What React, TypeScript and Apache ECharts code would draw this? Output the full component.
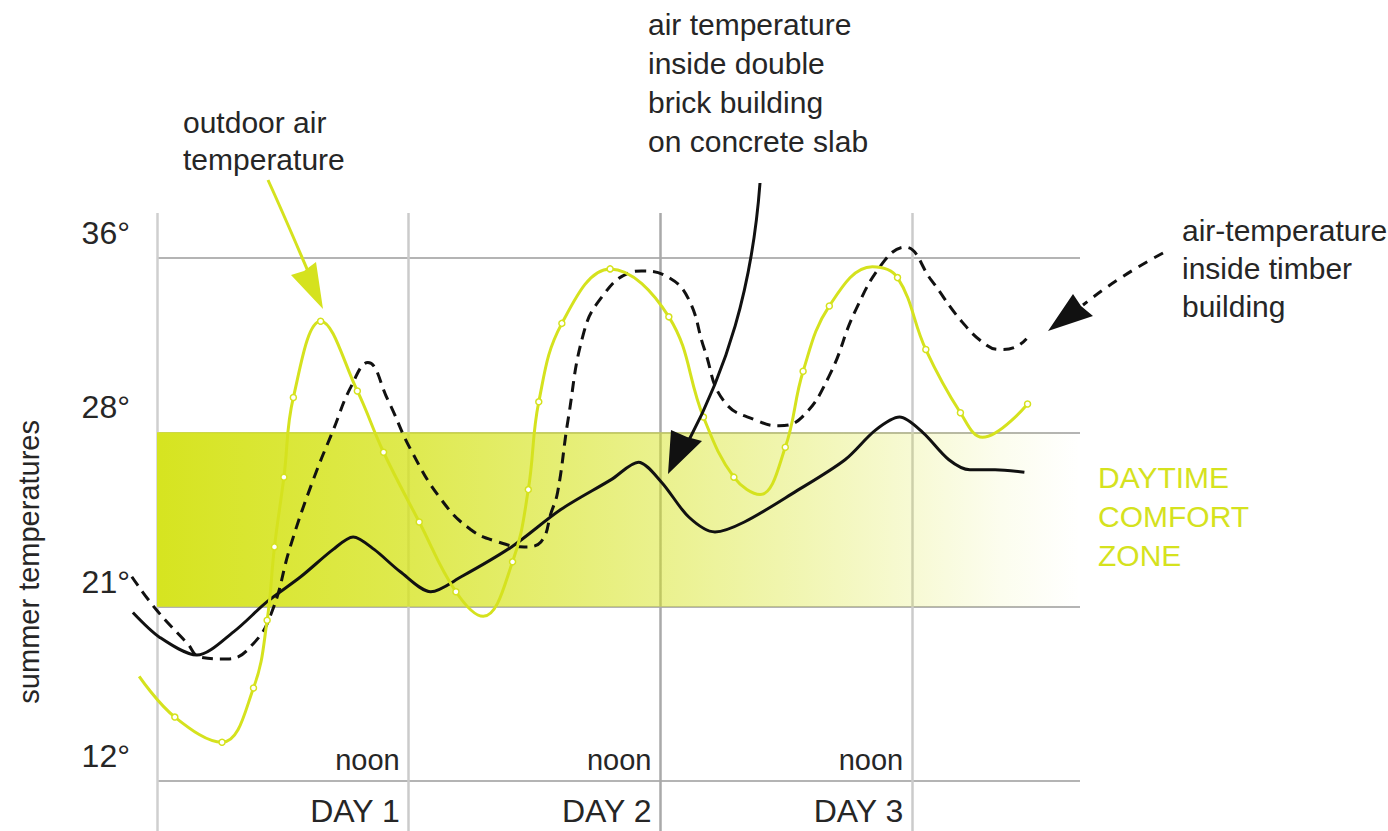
import React, { useEffect, useRef } from "react";
import * as echarts from "echarts";

// Hours from midnight of day 1 (x), temperatures in °C (y)
const outdoorHours = [-1.7, 1.7, 6.2, 9.2, 10.5, 11.2, 12.1, 13.0, 15.6, 19.1, 21.6, 25.0, 28.5, 31.1, 33.9, 35.4, 36.4, 38.6, 43.2, 48.8, 52.1, 55.0, 57.5, 59.9, 61.6, 64.1, 68.2, 70.6, 73.3, 76.6, 78.7, 83.0];
const outdoorTemps = [17.4, 15.3, 14.0, 16.8, 20.3, 23.4, 26.2, 29.6, 33.1, 29.9, 27.2, 24.4, 21.6, 20.5, 22.8, 25.7, 29.4, 33.0, 35.5, 33.3, 28.7, 26.2, 25.5, 27.4, 30.8, 33.8, 35.6, 35.1, 31.8, 28.9, 27.8, 29.3];
const outdoorUnmarked = [0, 13, 22, 26, 30];

const timberHours = [-2.4, 0.0, 2.9, 4.1, 6.7, 9.2, 11.0, 12.7, 14.9, 16.8, 18.5, 20.1, 22.0, 24.2, 27.1, 29.9, 32.5, 35.0, 36.6, 37.6, 38.2, 39.2, 40.7, 42.4, 44.9, 46.2, 48.8, 50.7, 52.2, 54.1, 57.4, 59.3, 61.5, 64.1, 66.6, 69.4, 71.3, 73.8, 76.7, 79.1, 80.5, 81.8, 82.9];
const timberTemps = [22.2, 20.8, 19.1, 18.4, 18.3, 19.1, 20.8, 23.4, 26.1, 28.1, 30.1, 31.2, 29.5, 27.3, 25.3, 24.1, 23.6, 23.4, 23.6, 24.8, 25.6, 28.6, 32.6, 34.2, 35.3, 35.4, 35.1, 34.1, 31.8, 29.4, 28.5, 28.3, 28.7, 30.6, 33.6, 35.9, 36.5, 35.0, 33.1, 32.0, 31.8, 31.9, 32.3];

const brickHours = [-2.3, 0.3, 3.8, 7.3, 10.5, 13.7, 16.8, 18.7, 20.7, 23.2, 26.1, 29.0, 33.8, 38.5, 43.3, 45.9, 48.1, 50.7, 53.2, 56.0, 60.8, 65.6, 68.5, 70.8, 73.0, 75.5, 77.5, 79.9, 82.7];
const brickTemps = [20.7, 19.4, 18.5, 19.7, 21.2, 22.2, 23.3, 23.8, 23.3, 22.4, 21.6, 22.2, 23.4, 24.9, 26.1, 26.8, 26.0, 24.6, 24.0, 24.4, 25.6, 26.9, 28.1, 28.7, 28.0, 26.9, 26.5, 26.5, 26.4];

// Temperature tick levels (drawn equally spaced)
const tempTicks = [12, 21, 28, 36];
const tempTickLabels = ["12°", "21°", "28°", "36°"];
const comfortZone = [21, 28];
const noonHours = [24, 48, 72];
const dayLabels = ["DAY 1", "DAY 2", "DAY 3"];

const YG = "#d5e21e";
const FONT = "'Liberation Sans', Arial, Helvetica, sans-serif";
const TXT = "#262626";
const X_MAX = 88;
const PX_PER_HOUR = (1388 - 157 - 308) / X_MAX;
const PX_PER_LEVEL = (831 - 258 - 50) / 3;
const DATA_Y_MAX = 3.5;

function toLevel(t: number): number {
  for (let i = 0; i < tempTicks.length - 1; i++) {
    const a = tempTicks[i];
    const b = tempTicks[i + 1];
    if (t <= b || i === tempTicks.length - 2) return i + (t - a) / (b - a);
  }
  return 0;
}

export default function App() {
  const ref = useRef<HTMLDivElement>(null);
  useEffect(() => {
    if (!ref.current) return;
    const chart = echarts.init(ref.current, null, { renderer: "svg" });

    const outdoorData = outdoorHours.map((h, i) => {
      const item: any = { value: [h, toLevel(outdoorTemps[i])] };
      if (outdoorUnmarked.includes(i)) item.symbol = "none";
      return item;
    });
    const timberData = timberHours.map((h, i) => [h, toLevel(timberTemps[i])]);
    const brickData = brickHours.map((h, i) => [h, toLevel(brickTemps[i])]);

    const option: any = {
      animation: false,
      backgroundColor: "#ffffff",
      grid: [
        { left: 157, right: 308, top: 258, bottom: 50 },
        { left: 157, right: 308, top: 213, bottom: 0 },
        {
          left: 157 - 12 * PX_PER_HOUR,
          right: 308,
          top: 258 - (DATA_Y_MAX - 3) * PX_PER_LEVEL,
          bottom: 50,
        },
      ],
      xAxis: [
        {
          type: "value",
          gridIndex: 0,
          min: 0,
          max: X_MAX,
          interval: 24,
          axisLine: { show: false },
          axisTick: { show: false },
          splitLine: { show: false },
          axisLabel: {
            inside: true,
            margin: 7,
            align: "right",
            verticalAlign: "bottom",
            padding: [0, 9, 0, 0],
            fontFamily: FONT,
            fontSize: 29,
            color: TXT,
            showMaxLabel: false,
            formatter: (v: number) => (noonHours.includes(v) ? "noon" : ""),
          },
        },
        {
          type: "value",
          gridIndex: 0,
          position: "bottom",
          min: 0,
          max: X_MAX,
          interval: 24,
          axisLine: { show: false },
          axisTick: { show: false },
          splitLine: { show: false },
          axisLabel: {
            margin: 14,
            align: "right",
            verticalAlign: "top",
            padding: [0, 9, 0, 0],
            fontFamily: FONT,
            fontSize: 32,
            color: TXT,
            showMaxLabel: false,
            formatter: (v: number) => {
              const k = noonHours.indexOf(v);
              return k >= 0 ? dayLabels[k] : "";
            },
          },
        },
        {
          type: "value",
          gridIndex: 1,
          min: 0,
          max: X_MAX,
          interval: 24,
          axisLine: { show: false },
          axisTick: { show: false },
          axisLabel: { show: false },
          splitLine: {
            show: true,
            showMaxLine: false,
            lineStyle: { color: ["#cfcfcf", "#cbcbcb", "#a9a9a9", "#cbcbcb"], width: 2.5 },
          },
        },
        {
          type: "value",
          gridIndex: 2,
          min: -12,
          max: X_MAX,
          interval: 12,
          show: false,
        },
      ],
      yAxis: [
        {
          type: "value",
          gridIndex: 0,
          min: 0,
          max: 3,
          interval: 1,
          axisLine: { show: false },
          axisTick: { show: false },
          splitLine: { show: true, lineStyle: { color: "#b4b4b4", width: 2 } },
          axisLabel: {
            margin: 27,
            verticalAlign: "bottom",
            padding: [0, 0, 9, 0],
            fontFamily: FONT,
            fontSize: 32,
            color: TXT,
            formatter: (v: number) => tempTickLabels[Math.round(v)] ?? "",
          },
        },
        { type: "value", gridIndex: 1, min: 0, max: 1, show: false },
        { type: "value", gridIndex: 2, min: 0, max: DATA_Y_MAX, show: false },
      ],
      series: [
        {
          name: "comfort",
          type: "line",
          xAxisIndex: 0,
          yAxisIndex: 0,
          data: [],
          silent: true,
          markArea: {
            silent: true,
            itemStyle: {
              color: {
                type: "linear",
                x: 0,
                y: 0,
                x2: 1,
                y2: 0,
                colorStops: [
                  { offset: 0, color: "rgba(214,228,32,1)" },
                  { offset: 0.26, color: "rgba(214,228,32,0.8)" },
                  { offset: 0.46, color: "rgba(214,228,32,0.6)" },
                  { offset: 0.7, color: "rgba(214,228,32,0.34)" },
                  { offset: 0.91, color: "rgba(214,228,32,0.08)" },
                  { offset: 1, color: "rgba(214,228,32,0)" },
                ],
              },
            },
            data: [
              [
                { coord: [0, toLevel(comfortZone[0])] },
                { coord: [X_MAX, toLevel(comfortZone[1])] },
              ],
            ],
          },
        },
        {
          name: "air temperature inside double brick building on concrete slab",
          type: "line",
          xAxisIndex: 3,
          yAxisIndex: 2,
          data: brickData,
          smooth: 0.3,
          symbol: "none",
          lineStyle: { color: "#111111", width: 3 },
          z: 3,
        },
        {
          name: "air-temperature inside timber building",
          type: "line",
          xAxisIndex: 3,
          yAxisIndex: 2,
          data: timberData,
          smooth: 0.45,
          symbol: "none",
          lineStyle: { color: "#111111", width: 3, type: [11, 7] },
          z: 3,
        },
        {
          name: "outdoor air temperature",
          type: "line",
          xAxisIndex: 3,
          yAxisIndex: 2,
          data: outdoorData,
          smooth: 0.4,
          symbol: "circle",
          symbolSize: 6,
          showAllSymbol: true,
          itemStyle: { color: "#ffffff", borderColor: YG, borderWidth: 1.5 },
          lineStyle: { color: YG, width: 3 },
          z: 4,
        },
      ],
      graphic: [
        {
          type: "text",
          left: 14,
          top: 420,
          rotation: Math.PI / 2,
          style: { text: "summer temperatures", font: `29px ${FONT}`, fill: TXT },
        },
        {
          type: "text",
          left: 183,
          top: 104,
          style: { text: "outdoor air\ntemperature", font: `30px ${FONT}`, fill: TXT, lineHeight: 37 },
        },
        {
          type: "text",
          left: 648,
          top: 5,
          style: {
            text: "air temperature\ninside double\nbrick building\non concrete slab",
            font: `30px ${FONT}`,
            fill: TXT,
            lineHeight: 39,
          },
        },
        {
          type: "text",
          left: 1182,
          top: 211,
          style: {
            text: "air-temperature\ninside timber\nbuilding",
            font: `30px ${FONT}`,
            fill: TXT,
            lineHeight: 38,
          },
        },
        {
          type: "text",
          left: 1098,
          top: 458,
          style: {
            text: "DAYTIME\nCOMFORT\nZONE",
            font: `30px ${FONT}`,
            fill: YG,
            lineHeight: 39,
          },
        },
        // outdoor arrow
        {
          type: "bezierCurve",
          shape: { x1: 268, y1: 180, cpx1: 284, cpy1: 215, cpx2: 298, cpy2: 248, x2: 310, y2: 276 },
          style: { stroke: YG, lineWidth: 3, fill: null },
          z: 10,
        },
        {
          type: "polygon",
          shape: { points: [[323, 309], [291, 275], [304, 271], [316, 262]] },
          style: { fill: YG },
          z: 10,
        },
        // brick arrow
        {
          type: "bezierCurve",
          shape: { x1: 760, y1: 183, cpx1: 752, cpy1: 290, cpx2: 726, cpy2: 370, x2: 688, y2: 442 },
          style: { stroke: "#111", lineWidth: 3, fill: null },
          z: 10,
        },
        {
          type: "polygon",
          shape: { points: [[668, 474], [671, 430], [687, 437], [702, 441]] },
          style: { fill: "#111" },
          z: 10,
        },
        // timber arrow
        {
          type: "bezierCurve",
          shape: { x1: 1163, y1: 253, cpx1: 1135, cpy1: 268, cpx2: 1108, cpy2: 285, x2: 1083, y2: 305 },
          style: { stroke: "#111", lineWidth: 3, fill: null, lineDash: [10, 8] },
          z: 10,
        },
        {
          type: "polygon",
          shape: { points: [[1048, 331], [1073, 294], [1081, 306], [1093, 316]] },
          style: { fill: "#111" },
          z: 10,
        },
      ],
    };
    chart.setOption(option);
    return () => chart.dispose();
  }, []);

  return (
    <div
      ref={ref}
      style={{ position: "absolute", left: 0, top: 0, width: 1388, height: 831, background: "#fff" }}
    />
  );
}
